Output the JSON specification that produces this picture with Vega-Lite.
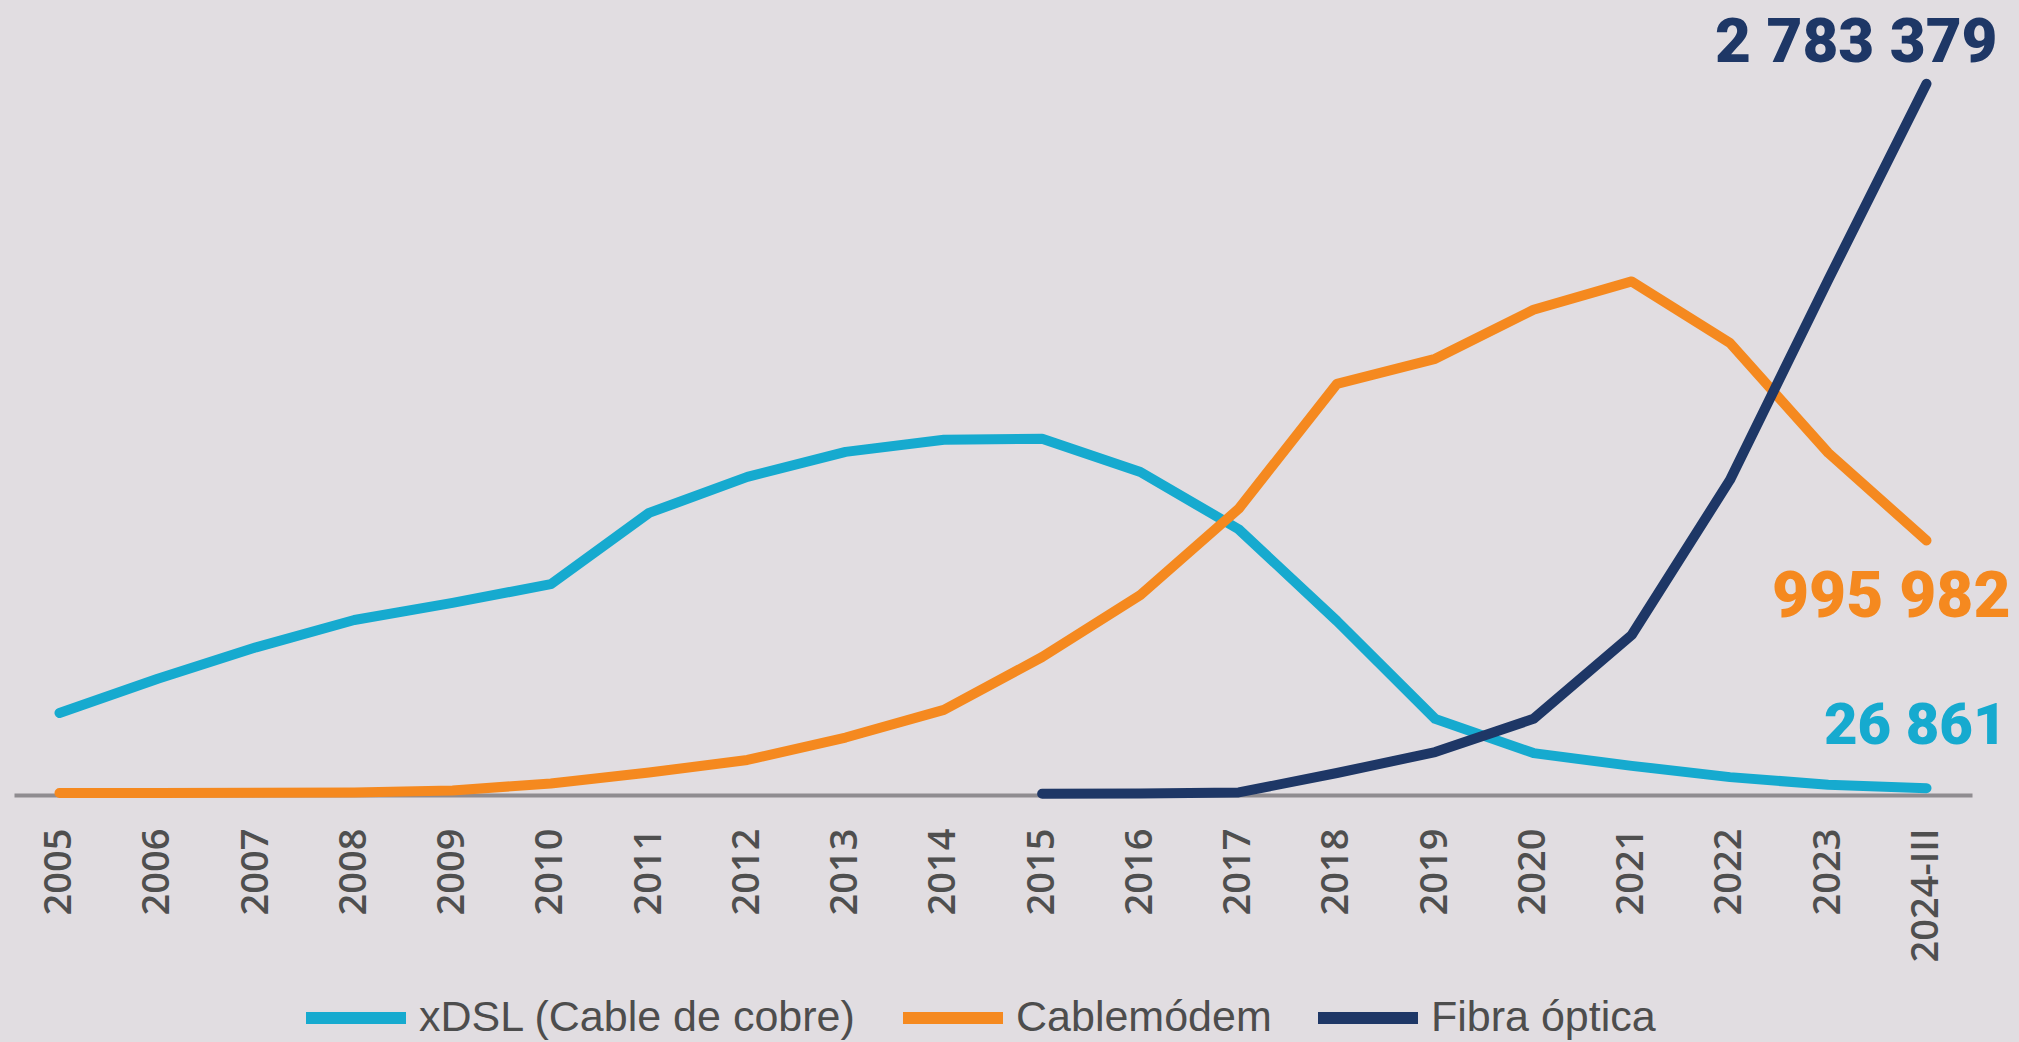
{
  "$schema": "https://vega.github.io/schema/vega-lite/v6.json",
  "width": 1958,
  "height": 741,
  "autosize": {"type": "none"},
  "padding": {"left": 14, "top": 54, "right": 47, "bottom": 247},
  "background": "#e1dde1",
  "config": {"view": {"stroke": null}},
  "datasets": {
    "series": [
      {"series": "xDSL (Cable de cobre)", "year": "2005", "value": 321000},
      {"series": "xDSL (Cable de cobre)", "year": "2006", "value": 455000},
      {"series": "xDSL (Cable de cobre)", "year": "2007", "value": 578000},
      {"series": "xDSL (Cable de cobre)", "year": "2008", "value": 685000},
      {"series": "xDSL (Cable de cobre)", "year": "2009", "value": 752000},
      {"series": "xDSL (Cable de cobre)", "year": "2010", "value": 825000},
      {"series": "xDSL (Cable de cobre)", "year": "2011", "value": 1104000},
      {"series": "xDSL (Cable de cobre)", "year": "2012", "value": 1245000},
      {"series": "xDSL (Cable de cobre)", "year": "2013", "value": 1343000},
      {"series": "xDSL (Cable de cobre)", "year": "2014", "value": 1390000},
      {"series": "xDSL (Cable de cobre)", "year": "2015", "value": 1394000},
      {"series": "xDSL (Cable de cobre)", "year": "2016", "value": 1264000},
      {"series": "xDSL (Cable de cobre)", "year": "2017", "value": 1040000},
      {"series": "xDSL (Cable de cobre)", "year": "2018", "value": 681000},
      {"series": "xDSL (Cable de cobre)", "year": "2019", "value": 298000},
      {"series": "xDSL (Cable de cobre)", "year": "2020", "value": 164000},
      {"series": "xDSL (Cable de cobre)", "year": "2021", "value": 114000},
      {"series": "xDSL (Cable de cobre)", "year": "2022", "value": 70000},
      {"series": "xDSL (Cable de cobre)", "year": "2023", "value": 40000},
      {"series": "xDSL (Cable de cobre)", "year": "2024-III", "value": 26861},
      {"series": "Cablemódem", "year": "2005", "value": 8000},
      {"series": "Cablemódem", "year": "2006", "value": 8000},
      {"series": "Cablemódem", "year": "2007", "value": 9000},
      {"series": "Cablemódem", "year": "2008", "value": 10000},
      {"series": "Cablemódem", "year": "2009", "value": 18000},
      {"series": "Cablemódem", "year": "2010", "value": 45000},
      {"series": "Cablemódem", "year": "2011", "value": 88000},
      {"series": "Cablemódem", "year": "2012", "value": 137000},
      {"series": "Cablemódem", "year": "2013", "value": 225000},
      {"series": "Cablemódem", "year": "2014", "value": 333000},
      {"series": "Cablemódem", "year": "2015", "value": 540000},
      {"series": "Cablemódem", "year": "2016", "value": 783000},
      {"series": "Cablemódem", "year": "2017", "value": 1120000},
      {"series": "Cablemódem", "year": "2018", "value": 1609000},
      {"series": "Cablemódem", "year": "2019", "value": 1707000},
      {"series": "Cablemódem", "year": "2020", "value": 1899000},
      {"series": "Cablemódem", "year": "2021", "value": 2010000},
      {"series": "Cablemódem", "year": "2022", "value": 1769000},
      {"series": "Cablemódem", "year": "2023", "value": 1339000},
      {"series": "Cablemódem", "year": "2024-III", "value": 995982},
      {"series": "Fibra óptica", "year": "2015", "value": 5000},
      {"series": "Fibra óptica", "year": "2016", "value": 6000},
      {"series": "Fibra óptica", "year": "2017", "value": 10000},
      {"series": "Fibra óptica", "year": "2018", "value": 86000},
      {"series": "Fibra óptica", "year": "2019", "value": 168000},
      {"series": "Fibra óptica", "year": "2020", "value": 298000},
      {"series": "Fibra óptica", "year": "2021", "value": 626000},
      {"series": "Fibra óptica", "year": "2022", "value": 1233000},
      {"series": "Fibra óptica", "year": "2023", "value": 2016000},
      {"series": "Fibra óptica", "year": "2024-III", "value": 2783379}
    ],
    "labels": [
      {"series": "xDSL (Cable de cobre)", "year": "2024-III", "value": 26861, "label": "26 861"},
      {"series": "Cablemódem", "year": "2024-III", "value": 995982, "label": "995 982"},
      {"series": "Fibra óptica", "year": "2024-III", "value": 2783379, "label": "2 783 379"}
    ]
  },
  "layer": [
    {
      "data": {"name": "series"},
      "mark": {"type": "line", "strokeWidth": 10, "strokeCap": "round", "strokeJoin": "round"},
      "encoding": {
        "x": {
          "field": "year", "type": "ordinal",
          "scale": {"type": "point", "padding": 0.463},
          "axis": {
            "title": null, "grid": false, "ticks": false,
            "domain": true, "domainColor": "#8f8c90", "domainWidth": 4,
            "labelAngle": -90, "labelAlign": "right", "labelBaseline": "middle",
            "labelFont": "Open Sans", "labelFontSize": 38, "labelFontWeight": 600,
            "labelColor": "#4f4f4f", "labelPadding": 33, "labelOverlap": false
          }
        },
        "y": {
          "field": "value", "type": "quantitative",
          "scale": {"domain": [0, 2900000], "nice": false, "zero": true}, "axis": null
        },
        "color": {
          "field": "series", "type": "nominal",
          "scale": {
            "domain": ["xDSL (Cable de cobre)", "Cablemódem", "Fibra óptica"],
            "range": ["#16aacf", "#f5891f", "#1e3766"]
          },
          "legend": {
            "title": null, "orient": "none", "direction": "horizontal",
            "legendX": 286, "legendY": 908, "padding": 0,
            "symbolType": "stroke", "symbolSize": 10000, "symbolStrokeWidth": 12,
            "labelFont": "Liberation Sans", "labelFontSize": 43, "labelColor": "#4d4d4d",
            "labelOffset": 7, "labelLimit": 0, "columnPadding": 22, "columns": 3
          }
        }
      }
    },
    {
      "data": {"name": "labels"},
      "transform": [{"filter": "datum.series === 'Fibra óptica'"}],
      "mark": {"type": "text", "align": "right", "baseline": "alphabetic", "dx": 71, "dy": -22,
               "font": "Roboto", "fontWeight": 900, "fontSize": 62, "color": "#1e3766"},
      "encoding": {
        "x": {"field": "year", "type": "ordinal"},
        "y": {"field": "value", "type": "quantitative"},
        "text": {"field": "label"}
      }
    },
    {
      "data": {"name": "labels"},
      "transform": [{"filter": "datum.series === 'Cablemódem'"}],
      "mark": {"type": "text", "align": "right", "baseline": "alphabetic", "dx": 84, "dy": 76,
               "font": "Roboto", "fontWeight": 900, "fontSize": 64, "color": "#f5891f"},
      "encoding": {
        "x": {"field": "year", "type": "ordinal"},
        "y": {"field": "value", "type": "quantitative"},
        "text": {"field": "label"}
      }
    },
    {
      "data": {"name": "labels"},
      "transform": [{"filter": "datum.series === 'xDSL (Cable de cobre)'"}],
      "mark": {"type": "text", "align": "right", "baseline": "alphabetic", "dx": 80, "dy": -44,
               "font": "Roboto", "fontWeight": 900, "fontSize": 58, "color": "#16aacf"},
      "encoding": {
        "x": {"field": "year", "type": "ordinal"},
        "y": {"field": "value", "type": "quantitative"},
        "text": {"field": "label"}
      }
    }
  ]
}
